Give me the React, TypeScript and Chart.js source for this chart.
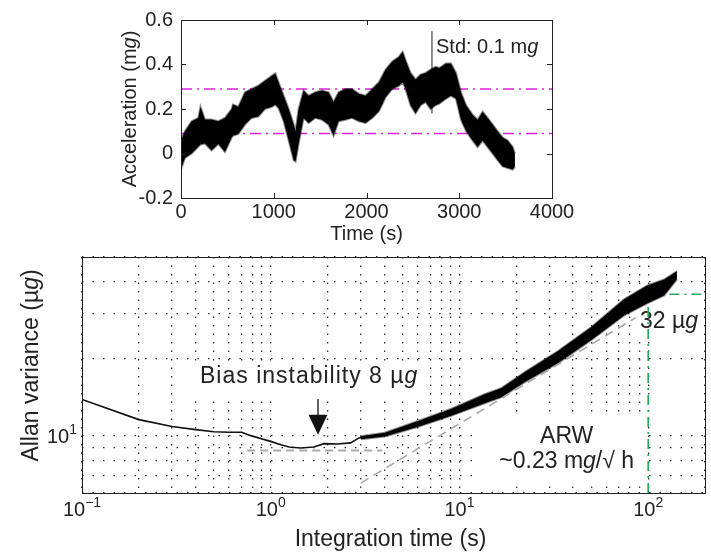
import React, { useEffect, useRef } from 'react';
import { Chart, registerables } from 'chart.js';

Chart.register(...registerables);

const FONT = '"Liberation Sans", Arial, Helvetica, sans-serif';
const TXT = '#222';

// ---------- Top panel: acceleration vs time ----------
const accelTime = [0, 43, 115, 186, 210, 258, 330, 402, 474, 546, 560, 618, 690, 761, 833, 905, 981, 1017, 1053, 1107, 1161, 1215, 1235, 1268, 1322, 1376, 1448, 1520, 1591, 1645, 1699, 1771, 1843, 1919, 1990, 2062, 2134, 2206, 2278, 2350, 2390, 2421, 2475, 2529, 2583, 2637, 2691, 2745, 2785, 2857, 2911, 2965, 3019, 3073, 3144, 3198, 3252, 3306, 3360, 3414, 3468, 3522, 3576, 3600];
const accelUpper = [0.06, 0.10, 0.145, 0.16, 0.21, 0.153, 0.153, 0.145, 0.16, 0.20, 0.22, 0.21, 0.275, 0.29, 0.305, 0.327, 0.35, 0.36, 0.319, 0.26, 0.20, 0.13, 0.10, 0.20, 0.283, 0.26, 0.275, 0.283, 0.275, 0.232, 0.275, 0.29, 0.29, 0.268, 0.26, 0.29, 0.32, 0.377, 0.413, 0.435, 0.457, 0.42, 0.362, 0.333, 0.355, 0.362, 0.377, 0.39, 0.384, 0.405, 0.405, 0.362, 0.275, 0.217, 0.174, 0.152, 0.188, 0.16, 0.13, 0.10, 0.072, 0.058, 0.029, 0.0];
const accelLower = [-0.07, -0.02, 0.0, 0.03, 0.04, 0.045, 0.014, 0.043, 0.007, 0.072, 0.08, 0.088, 0.13, 0.16, 0.166, 0.20, 0.21, 0.22, 0.203, 0.145, 0.058, -0.03, -0.036, 0.043, 0.16, 0.137, 0.16, 0.152, 0.13, 0.08, 0.145, 0.152, 0.16, 0.145, 0.137, 0.16, 0.19, 0.253, 0.29, 0.304, 0.32, 0.29, 0.217, 0.18, 0.217, 0.232, 0.20, 0.217, 0.224, 0.246, 0.26, 0.246, 0.152, 0.101, 0.058, 0.029, 0.058, 0.029, 0.0, -0.03, -0.058, -0.065, -0.072, -0.06];
const stdBandLines = [0.29, 0.09];
const stdLineSpan = [0, 4000];
const stdMarkerTime = 2706;
const stdMarkerRange = [0.18, 0.55];
const topXTicks = [0, 1000, 2000, 3000, 4000];
const topYTicks = [-0.2, 0, 0.2, 0.4, 0.6];
const topYLabels = ['-0.2', '0', '0.2', '0.4', '0.6'];

// ---------- Bottom panel: Allan deviation ----------
const tauMain = [0.1, 0.2, 0.3, 0.4, 0.5, 0.6, 0.7, 0.8, 0.9, 1.0, 1.13, 1.25, 1.44, 1.69, 1.92, 2.25, 2.65, 2.93, 4.02, 6.04, 9.07, 13.6, 16.7, 22.2, 33.3, 50, 74.5, 98.7, 121.5, 142];
const allanMain = [13.9, 11.6, 10.9, 10.6, 10.4, 10.36, 10.35, 10.0, 9.75, 9.54, 9.26, 9.07, 8.99, 9.07, 9.35, 9.32, 9.41, 9.84, 10.13, 11.17, 12.41, 13.99, 14.79, 16.99, 20.35, 25.1, 31.8, 35.6, 38.0, 42.4];
const tauBand = [3.0, 4.02, 6.04, 9.07, 13.6, 16.7, 22.2, 33.3, 50, 74.5, 98.7, 121.5, 142];
const allanUpper = [10.0, 10.32, 11.47, 12.8, 14.57, 15.4, 17.78, 21.48, 26.64, 34.18, 38.69, 40.84, 43.96];
const allanLower = [9.73, 9.96, 10.87, 12.02, 13.43, 14.19, 16.25, 19.28, 23.71, 29.58, 32.95, 35.37, 40.92];
const biasTau = [0.75, 3.9];
const biasLevel = 8.78;
const arwTau = [3.0, 86];
const arwVal = [6.56, 29.0];
const cornerTau = [100, 100, 200];
const cornerVal = [6, 35.8, 35.8];
const arrowTau = 1.78;
const arrowVals = [13.97, 12.13, 10.13]; // tail, head base, tip
const xGridTicks = [0.1, 0.2, 0.3, 0.4, 0.5, 0.6, 0.7, 0.8, 0.9, 1, 2, 3, 4, 5, 6, 7, 8, 9, 10, 20, 30, 40, 50, 60, 70, 80, 90, 100, 200];
const yGridTicks = [6, 7, 8, 9, 10, 20, 30, 40, 50];
const xLabelExps = [-1, 0, 1, 2];
const yLabelExps = [1];

type Part = [string, boolean];

function drawRich(ctx: CanvasRenderingContext2D, parts: Part[], x: number, y: number, align: 'left' | 'center', size: number, spacing = 0) {
  const c: any = ctx;
  const prevSpacing = c.letterSpacing;
  if (spacing && 'letterSpacing' in c) c.letterSpacing = spacing + 'px';
  const widths = parts.map(([s, it]) => {
    ctx.font = `${it ? 'italic ' : ''}${size}px ${FONT}`;
    return ctx.measureText(s).width;
  });
  const total = widths.reduce((a, b) => a + b, 0);
  let cx = align === 'center' ? x - total / 2 : x;
  ctx.textAlign = 'left';
  ctx.textBaseline = 'alphabetic';
  parts.forEach(([s, it], i) => {
    ctx.font = `${it ? 'italic ' : ''}${size}px ${FONT}`;
    ctx.fillText(s, cx, y);
    cx += widths[i];
  });
  if (spacing && 'letterSpacing' in c) c.letterSpacing = prevSpacing || '0px';
}

function drawPow(ctx: CanvasRenderingContext2D, exp: number, x: number, baseY: number, align: 'center' | 'right') {
  const base = '10';
  const e = exp < 0 ? '\u2212' + Math.abs(exp) : String(exp);
  ctx.font = `20px ${FONT}`;
  const wb = ctx.measureText(base).width;
  ctx.font = `14px ${FONT}`;
  const we = ctx.measureText(e).width;
  const total = wb + we;
  const left = align === 'center' ? x - total / 2 : x - total;
  ctx.textAlign = 'left';
  ctx.textBaseline = 'alphabetic';
  ctx.font = `20px ${FONT}`;
  ctx.fillText(base, left, baseY);
  ctx.font = `14px ${FONT}`;
  ctx.fillText(e, left + wb, baseY - 9);
}

const pts = (xs: number[], ys: number[]) => xs.map((x, i) => ({ x, y: ys[i] }));

const topDecor = {
  id: 'topDecor',
  afterDraw(chart: any) {
    const { ctx, chartArea: a, scales } = chart;
    const x = scales.x, y = scales.y;
    ctx.save();
    ctx.strokeStyle = '#222';
    ctx.lineWidth = 1;
    ctx.strokeRect(Math.round(a.left) + 0.5, Math.round(a.top) + 0.5, Math.round(a.right - a.left), Math.round(a.bottom - a.top));
    ctx.beginPath();
    topYTicks.forEach((v) => {
      const py = Math.round(y.getPixelForValue(v)) + 0.5;
      ctx.moveTo(a.left, py); ctx.lineTo(a.left + 5, py);
      ctx.moveTo(a.right, py); ctx.lineTo(a.right - 5, py);
    });
    topXTicks.forEach((v) => {
      const px = Math.round(x.getPixelForValue(v)) + 0.5;
      ctx.moveTo(px, a.bottom); ctx.lineTo(px, a.bottom - 5);
      ctx.moveTo(px, a.top); ctx.lineTo(px, a.top + 5);
    });
    ctx.stroke();
    ctx.fillStyle = TXT;
    drawRich(ctx, [['Std: 0.1 m', false], ['g', true]], x.getPixelForValue(stdMarkerTime) + 4, 53, 'left', 20);
    drawRich(ctx, [['Time (s)', false]], (a.left + a.right) / 2, 240, 'center', 20);
    ctx.save();
    ctx.translate(136, (a.top + a.bottom) / 2);
    ctx.rotate(-Math.PI / 2);
    drawRich(ctx, [['Acceleration (m', false], ['g', true], [')', false]], 0, 0, 'center', 20);
    ctx.restore();
    ctx.restore();
  },
};

const bottomDecor = {
  id: 'bottomDecor',
  beforeDatasetsDraw(chart: any) {
    const { ctx } = chart;
    ctx.save();
    ctx.fillStyle = '#fff';
    ctx.fillRect(193, 112, 229, 36);
    ctx.fillRect(473, 167, 170, 66);
    ctx.fillRect(638, 55, 66, 33);
    ctx.fillStyle = TXT;
    drawRich(ctx, [['Bias instability 8 \u00b5', false], ['g', true]], 200, 133, 'left', 23, 1);
    drawRich(ctx, [['ARW', false]], 566.7, 193, 'center', 23);
    drawRich(ctx, [['~0.23 m', false], ['g', true], ['/\u221a h', false]], 566.7, 218, 'center', 23);
    drawRich(ctx, [['32 \u00b5', false], ['g', true]], 640, 78, 'left', 23);
    ctx.restore();
  },
  afterDatasetsDraw(chart: any) {
    const { ctx, scales } = chart;
    const x = scales.x, y = scales.y;
    const px = x.getPixelForValue(arrowTau);
    const yTail = y.getPixelForValue(arrowVals[0]);
    const yBase = y.getPixelForValue(arrowVals[1]);
    const yTip = y.getPixelForValue(arrowVals[2]);
    ctx.save();
    ctx.strokeStyle = '#111';
    ctx.fillStyle = '#111';
    ctx.lineWidth = 1.3;
    ctx.beginPath();
    ctx.moveTo(px, yTail); ctx.lineTo(px, yBase + 1);
    ctx.stroke();
    ctx.beginPath();
    ctx.moveTo(px - 9.5, yBase); ctx.lineTo(px + 9.5, yBase); ctx.lineTo(px, yTip);
    ctx.closePath();
    ctx.fill();
    ctx.restore();
  },
  afterDraw(chart: any) {
    const { ctx, chartArea: a, scales } = chart;
    const x = scales.x, y = scales.y;
    ctx.save();
    ctx.strokeStyle = '#222';
    ctx.lineWidth = 1;
    ctx.strokeRect(Math.round(a.left) + 0.5, Math.round(a.top) + 0.5, Math.round(a.right - a.left), Math.round(a.bottom - a.top));
    ctx.fillStyle = TXT;
    xLabelExps.forEach((e) => drawPow(ctx, e, x.getPixelForValue(Math.pow(10, e)), 266, 'center'));
    yLabelExps.forEach((e) => drawPow(ctx, e, a.left - 5, y.getPixelForValue(Math.pow(10, e)) + 7, 'right'));
    drawRich(ctx, [['Integration time (s)', false]], 390.5, 296, 'center', 23);
    ctx.save();
    ctx.translate(38, 115.5);
    ctx.rotate(-Math.PI / 2);
    drawRich(ctx, [['Allan variance (\u00b5', false], ['g', true], [')', false]], 0, 0, 'center', 23);
    ctx.restore();
    ctx.restore();
  },
};

export default function App() {
  const topRef = useRef<HTMLCanvasElement>(null);
  const botRef = useRef<HTMLCanvasElement>(null);

  useEffect(() => {
    const line = (data: any[], extra: any) => ({ data, showLine: true, pointRadius: 0, borderWidth: 1, borderColor: '#000', fill: false, ...extra });
    const soft = 'rgba(0,0,0,0.45)';

    const top = new Chart(topRef.current!, {
      type: 'scatter',
      data: {
        datasets: [
          line(pts(accelTime, accelLower), { borderWidth: 2, borderColor: soft }),
          line(pts(accelTime, accelUpper), { borderWidth: 2, borderColor: soft, fill: '-1', backgroundColor: '#000' }),
          line(pts(stdLineSpan, [stdBandLines[0], stdBandLines[0]]), { borderColor: '#dd22dd', borderWidth: 1.6, borderDash: [11, 5, 2, 5] }),
          line(pts(stdLineSpan, [stdBandLines[1], stdBandLines[1]]), { borderColor: '#dd22dd', borderWidth: 1.6, borderDash: [11, 5, 2, 5] }),
          line(pts([stdMarkerTime, stdMarkerTime], stdMarkerRange), { borderColor: '#222', borderWidth: 1 }),
        ],
      },
      options: {
        animation: false,
        responsive: false,
        layout: { padding: { left: 0, right: 159, top: 15, bottom: 0 } },
        plugins: { legend: { display: false }, tooltip: { enabled: false } },
        scales: {
          x: {
            type: 'linear', min: 0, max: 4000,
            afterBuildTicks: (s: any) => { s.ticks = topXTicks.map((v) => ({ value: v })); },
            afterFit: (s: any) => { s.height = 52; },
            grid: { display: false, drawTicks: false },
            border: { display: false },
            ticks: { font: { family: FONT, size: 20 }, color: TXT, padding: 2, maxRotation: 0, autoSkip: false, callback: (v: any) => String(v) },
          },
          y: {
            type: 'linear', min: -0.2, max: 0.6,
            afterBuildTicks: (s: any) => { s.ticks = topYTicks.map((v) => ({ value: v })); },
            afterFit: (s: any) => { s.width = 181; },
            grid: { display: false, drawTicks: false },
            border: { display: false },
            ticks: { font: { family: FONT, size: 20 }, color: TXT, padding: 8, autoSkip: false, callback: (v: any) => { const i = topYTicks.findIndex((t) => Math.abs(t - v) < 1e-9); return i >= 0 ? topYLabels[i] : ''; } },
          },
        },
      },
      plugins: [topDecor],
    } as any);

    const bot = new Chart(botRef.current!, {
      type: 'scatter',
      data: {
        datasets: [
          line(pts(biasTau, [biasLevel, biasLevel]), { borderColor: '#aaa', borderWidth: 2, borderDash: [8, 5] }),
          line(pts(arwTau, arwVal), { borderColor: '#a8a8a8', borderWidth: 1.6, borderDash: [9, 6] }),
          line(pts(tauBand, allanLower), { borderWidth: 2, borderColor: soft }),
          line(pts(tauBand, allanUpper), { borderWidth: 2, borderColor: soft, fill: '-1', backgroundColor: '#000' }),
          line(pts(tauMain, allanMain), { borderWidth: 1.6, borderColor: '#111' }),
          line(pts(cornerTau, cornerVal), { borderColor: '#22a85a', borderWidth: 1.6, borderDash: [10, 5, 2, 5] }),
        ],
      },
      options: {
        animation: false,
        responsive: false,
        layout: { padding: { left: 0, right: 6, top: 7, bottom: 0 } },
        plugins: { legend: { display: false }, tooltip: { enabled: false } },
        scales: {
          x: {
            type: 'logarithmic', min: 0.1, max: 200,
            afterBuildTicks: (s: any) => { s.ticks = xGridTicks.map((v) => ({ value: v })); },
            afterFit: (s: any) => { s.height = 60; },
            grid: { display: true, drawTicks: false, color: '#333', lineWidth: 1.3 },
            border: { display: false, dash: [1.5, 7] },
            ticks: { display: false },
          },
          y: {
            type: 'logarithmic', min: 6, max: 50,
            afterBuildTicks: (s: any) => { s.ticks = yGridTicks.map((v) => ({ value: v })); },
            afterFit: (s: any) => { s.width = 82; },
            grid: { display: true, drawTicks: false, color: '#333', lineWidth: 1.3 },
            border: { display: false, dash: [1.5, 9] },
            ticks: { display: false },
          },
        },
      },
      plugins: [bottomDecor],
    } as any);

    return () => { top.destroy(); bot.destroy(); };
  }, []);

  return (
    <div style={{ position: 'fixed', left: 0, top: 0, width: 711, height: 553, background: '#fff' }}>
      <canvas ref={topRef} width={711} height={250} style={{ position: 'absolute', left: 0, top: 0, width: 711, height: 250 }} />
      <canvas ref={botRef} width={711} height={303} style={{ position: 'absolute', left: 0, top: 250, width: 711, height: 303 }} />
    </div>
  );
}
